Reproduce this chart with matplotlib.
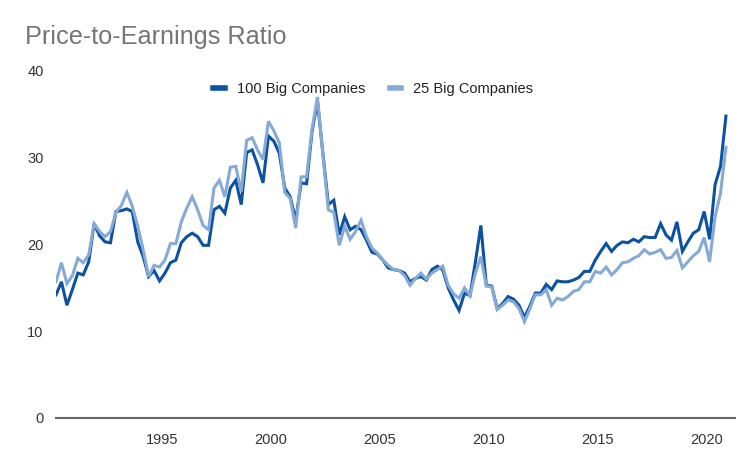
import matplotlib
matplotlib.use("Agg")

import numpy as np
import matplotlib.pyplot as plt

plt.rcParams["font.family"] = ["Liberation Sans", "DejaVu Sans"]

# quarterly P/E, 1990 Q1 .. 2020 Q4
big100 = [
    14.2, 15.7, 13.0, 14.8, 16.7, 16.5, 18.0, 22.4, 21.0, 20.3,
    20.2, 23.8, 23.9, 24.1, 23.8, 20.3, 18.6, 16.3, 17.0, 15.8,
    16.7, 17.9, 18.2, 20.2, 20.9, 21.3, 20.9, 19.9, 19.9, 24.0,
    24.4, 23.6, 26.5, 27.4, 24.6, 30.6, 30.9, 29.2, 27.1, 32.5,
    31.9, 30.5, 26.5, 25.5, 22.8, 27.1, 27.0, 33.0, 36.5, 30.5,
    24.6, 25.1, 21.1, 23.2, 21.7, 22.1, 21.7, 20.5, 19.1, 18.9,
    18.2, 17.3, 17.1, 17.0, 16.7, 15.7, 16.1, 16.3, 15.9, 17.1,
    17.5, 17.1, 15.0, 13.6, 12.4, 14.4, 14.1, 18.0, 22.2, 15.3,
    15.2, 12.6, 13.2, 14.0, 13.7, 13.0, 11.6, 12.9, 14.4, 14.4,
    15.4, 14.8, 15.8, 15.7, 15.7, 15.9, 16.2, 16.9, 16.9, 18.2,
    19.2, 20.1, 19.2, 19.9, 20.3, 20.2, 20.6, 20.3, 20.9, 20.8,
    20.8, 22.4, 21.1, 20.5, 22.6, 19.2, 20.3, 21.3, 21.7, 23.8,
    20.6, 26.9, 29.0, 34.8,
]
big25 = [
    15.7, 17.9, 15.5, 16.4, 18.4, 17.9, 18.8, 22.4, 21.5, 20.9,
    21.5, 23.7, 24.5, 26.0, 24.4, 22.1, 19.4, 16.3, 17.6, 17.4,
    18.2, 20.1, 20.1, 22.6, 24.2, 25.5, 24.0, 22.2, 21.7, 26.5,
    27.4, 25.5, 28.9, 29.0, 26.1, 32.0, 32.3, 30.9, 29.8, 34.2,
    33.1, 31.7, 26.0, 25.3, 21.9, 27.8, 27.8, 33.3, 37.0, 30.3,
    24.0, 23.7, 19.9, 22.1, 20.6, 21.5, 22.8, 20.9, 19.6, 19.0,
    18.2, 17.6, 17.1, 17.0, 16.4, 15.3, 16.1, 16.7, 16.0, 16.7,
    17.1, 17.5, 15.3, 14.3, 13.8, 15.0, 14.1, 16.7, 18.6, 15.2,
    15.1, 12.5, 13.0, 13.6, 13.4, 12.6, 11.1, 12.6, 14.2, 14.2,
    14.8, 13.0, 13.8, 13.6, 14.0, 14.6, 14.8, 15.7, 15.7, 16.9,
    16.7, 17.4, 16.5, 17.1, 17.9, 18.0, 18.4, 18.7, 19.4, 18.9,
    19.1, 19.4, 18.4, 18.5, 19.3, 17.3, 18.0, 18.7, 19.2, 20.8,
    18.0, 23.2, 25.9, 31.2,
]
quarters = 1990.125 + 0.25 * np.arange(len(big100))
tick_years = [1995, 2000, 2005, 2010, 2015, 2020]
y_ticks = [0, 10, 20, 30, 40]

DARK = "#0d52a1"
LIGHT = "#86aad6"

fig = plt.figure(figsize=(7.5, 4.63), dpi=100)
ax = fig.add_axes([0.0747, 0.0972, 0.9053, 0.7495])

ax.plot(quarters, big100, color=DARK, lw=2.2, label="100 Big Companies",
        solid_joinstyle="miter")
ax.plot(quarters, big25, color=LIGHT, lw=2.2, label="25 Big Companies",
        solid_joinstyle="miter")

ax.set_xlim(1990.125, 2021.29)
ax.set_ylim(0, 40)
ax.set_xticks(tick_years)
ax.set_xticklabels([str(y) for y in tick_years])
ax.set_yticks(y_ticks)
ax.tick_params(length=0, labelsize=10.5, labelcolor="#333333")
ax.tick_params(axis="x", pad=11)
ax.tick_params(axis="y", pad=9)

for side in ["top", "right", "left"]:
    ax.spines[side].set_visible(False)
ax.spines["bottom"].set_color("#666666")
ax.spines["bottom"].set_linewidth(1.5)

leg = ax.legend(loc="upper center", bbox_to_anchor=(0.467, 1.005), ncol=2,
                frameon=False, fontsize=10.5, handlelength=0.8,
                handletextpad=0.8, columnspacing=1.7)
for line in leg.get_lines():
    line.set_linewidth(4)
for t in leg.get_texts():
    t.set_color("#222222")

fig.text(0.033, 0.905, "Price-to-Earnings Ratio", fontsize=18.2,
         color="#757575")

fig.savefig("out.png", dpi=100)
